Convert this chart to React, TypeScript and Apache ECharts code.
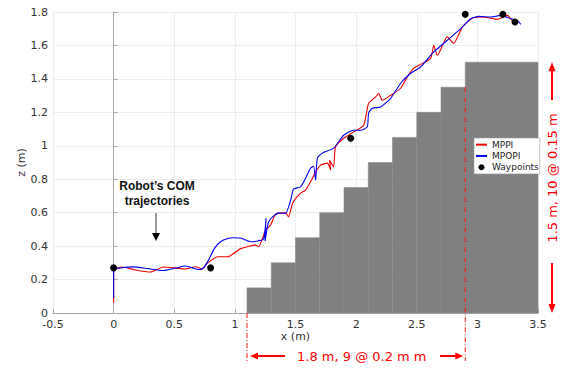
import React, { useEffect, useRef } from 'react';
import * as echarts from 'echarts';

// ---- data (x in m, z in m) ----
const mppi: [number, number][] = [
  [0, 0.06], [0, 0.257], [0.074, 0.275], [0.181, 0.257], [0.304, 0.245], [0.412, 0.275],
  [0.511, 0.269], [0.593, 0.263], [0.676, 0.277], [0.733, 0.263], [0.766, 0.293],
  [0.857, 0.336], [0.94, 0.336], [1.047, 0.385], [1.171, 0.406], [1.196, 0.396],
  [1.229, 0.448], [1.253, 0.496], [1.295, 0.526], [1.336, 0.591], [1.418, 0.599],
  [1.443, 0.575], [1.476, 0.657], [1.542, 0.717], [1.583, 0.735], [1.624, 0.784],
  [1.666, 0.844], [1.707, 0.884], [1.762, 0.896], [1.79, 0.854], [1.781, 0.914],
  [1.814, 0.874], [1.83, 0.993], [1.897, 1.045], [1.979, 1.083], [2.062, 1.123],
  [2.103, 1.254], [2.161, 1.292], [2.186, 1.314], [2.216, 1.272], [2.285, 1.302],
  [2.367, 1.344], [2.422, 1.412], [2.474, 1.464], [2.532, 1.487], [2.615, 1.523],
  [2.64, 1.601], [2.67, 1.541], [2.752, 1.651], [2.804, 1.613], [2.876, 1.71],
  [2.959, 1.764], [3.052, 1.77], [3.165, 1.756], [3.248, 1.78], [3.275, 1.76], [3.302, 1.74],
];

const mpopi: [number, number][] = [
  [0, 0.09], [0, 0.257], [0.057, 0.269], [0.156, 0.276], [0.28, 0.266], [0.403, 0.254],
  [0.511, 0.269], [0.593, 0.281], [0.7, 0.26], [0.741, 0.269], [0.783, 0.317],
  [0.833, 0.388], [0.882, 0.426], [0.94, 0.445], [0.989, 0.45], [1.047, 0.448],
  [1.13, 0.426], [1.196, 0.432], [1.237, 0.442], [1.257, 0.567], [1.249, 0.43],
  [1.278, 0.544], [1.311, 0.575], [1.361, 0.597], [1.418, 0.596], [1.46, 0.675],
  [1.484, 0.741], [1.542, 0.754], [1.583, 0.806], [1.624, 0.866], [1.649, 0.878],
  [1.666, 0.795], [1.68, 0.926], [1.721, 0.956], [1.814, 0.986], [1.897, 1.063],
  [1.979, 1.093], [2.037, 1.093], [2.092, 1.113], [2.103, 1.195], [2.134, 1.225],
  [2.202, 1.232], [2.285, 1.284], [2.367, 1.374], [2.45, 1.434], [2.532, 1.471],
  [2.64, 1.561], [2.752, 1.631], [2.862, 1.701], [2.945, 1.76], [3.013, 1.774],
  [3.11, 1.77], [3.192, 1.78], [3.275, 1.76], [3.33, 1.75], [3.357, 1.726],
];

const waypoints: [number, number][] = [
  [0, 0.27], [0.8, 0.27], [1.955, 1.045], [2.9, 1.786], [3.21, 1.786], [3.31, 1.74],
];

// staircase: step edges along x and step heights
const stairEdges = [1.1, 1.3, 1.5, 1.7, 1.9, 2.1, 2.3, 2.5, 2.7, 2.9, 3.5];
const stairHeights = [0.15, 0.3, 0.45, 0.6, 0.75, 0.9, 1.05, 1.2, 1.35, 1.5];

const legendNames = ['MPPI', 'MPOPI', 'Waypoints'];
const runLabel = '1.8 m, 9 @ 0.2 m m';
const riseLabel = '1.5 m, 10 @ 0.15 m';
const comLabel = 'Robot’s COM\ntrajectories';

const FONT = '"DejaVu Sans", sans-serif';

export default function App() {
  const ref = useRef<HTMLDivElement>(null);

  useEffect(() => {
    document.body.style.margin = '0';
    const chart = echarts.init(ref.current!, null, { renderer: 'svg' });

    const stairData = stairHeights.map((h, i) => [stairEdges[i], stairEdges[i + 1], h]);

    const option: any = {
      animation: false,
      backgroundColor: '#fff',
      grid: { left: 53, right: 28, top: 12, bottom: 56 },
      xAxis: {
        type: 'value',
        min: -0.5,
        max: 3.5,
        interval: 0.5,
        name: 'x (m)',
        nameLocation: 'middle',
        nameGap: 18,
        nameMoveOverlap: false,
        nameTextStyle: { fontFamily: FONT, fontSize: 11, color: '#333' },
        axisLine: { show: true, lineStyle: { color: '#a8a8a8', width: 1 } },
        axisTick: { show: true, inside: true, length: 4, lineStyle: { color: '#a8a8a8' } },
        axisLabel: { fontFamily: FONT, fontSize: 11, color: '#333', margin: 6 },
        splitLine: { show: true, lineStyle: { color: '#ececec', width: 1 } },
      },
      yAxis: {
        type: 'value',
        min: 0,
        max: 1.8,
        interval: 0.2,
        name: 'z (m)',
        nameLocation: 'middle',
        nameGap: 26,
        nameMoveOverlap: false,
        nameTextStyle: { fontFamily: FONT, fontSize: 11, color: '#333' },
        axisLine: { show: true, lineStyle: { color: '#a8a8a8', width: 1 } },
        axisTick: { show: true, inside: true, length: 4, lineStyle: { color: '#a8a8a8' } },
        axisLabel: { fontFamily: FONT, fontSize: 11, color: '#333', margin: 5 },
        splitLine: { show: true, lineStyle: { color: '#ececec', width: 1 } },
      },
      legend: {
        data: [
          { name: legendNames[0], itemStyle: { opacity: 0 } },
          { name: legendNames[1], itemStyle: { opacity: 0 } },
          { name: legendNames[2] },
        ],
        orient: 'vertical',
        left: 474,
        top: 138,
        itemGap: 0,
        itemWidth: 11,
        itemHeight: 6,
        padding: [1, 1, 1, 1],
        backgroundColor: '#fff',
        borderColor: '#9a9a9a',
        borderWidth: 0.6,
        borderRadius: 0,
        textStyle: { fontFamily: FONT, fontSize: 9, color: '#222', lineHeight: 11.3 },
      },
      series: [
        {
          type: 'custom',
          name: 'stairs',
          silent: true,
          z: 1,
          renderItem: (params: any, api: any) => {
            const x0 = api.value(0);
            const x1 = api.value(1);
            const h = api.value(2);
            const p0 = api.coord([x0, h]);
            const p1 = api.coord([x1, 0]);
            return {
              type: 'rect',
              shape: { x: p0[0], y: p0[1], width: p1[0] - p0[0], height: p1[1] - p0[1] },
              style: { fill: '#808080', stroke: '#8c8c8c', lineWidth: 0.6 },
            };
          },
          encode: { x: [0, 1], y: 2 },
          data: stairData,
        },
        {
          type: 'line',
          name: 'MPPI',
          data: mppi,
          symbol: 'none',
          smooth: 0.2,
          z: 3,
          lineStyle: { color: '#f00000', width: 1.1 },
          itemStyle: { color: '#f00000' },
        },
        {
          type: 'line',
          name: 'MPOPI',
          data: mpopi,
          symbol: 'none',
          smooth: 0.2,
          z: 4,
          lineStyle: { color: '#0000f0', width: 1.1 },
          itemStyle: { color: '#0000f0' },
        },
        {
          type: 'scatter',
          name: 'Waypoints',
          data: waypoints,
          symbol: 'circle',
          symbolSize: 7,
          z: 5,
          itemStyle: { color: '#000', opacity: 1 },
        },
      ],
    };

    chart.setOption(option);

    const px = (x: number, z: number) => chart.convertToPixel({ gridIndex: 0 }, [x, z]) as number[];
    const red = '#ff0000';
    const runStart = px(stairEdges[0], 0);
    const runEnd = px(stairEdges[stairEdges.length - 2], stairHeights[stairHeights.length - 2]);
    const riseBottom = px(3.5, 0);
    const riseTop = px(3.5, stairHeights[stairHeights.length - 1]);
    const yRun = 356;
    const xRise = 552;
    const dash = [5, 2, 1, 2];

    const graphic: any[] = [
      // dash-dot verticals
      { type: 'line', z: 100, shape: { x1: runStart[0], y1: runStart[1], x2: runStart[0], y2: 361 }, style: { stroke: red, lineWidth: 0.9, lineDash: dash } },
      { type: 'line', z: 100, shape: { x1: runEnd[0], y1: runEnd[1], x2: runEnd[0], y2: 361 }, style: { stroke: red, lineWidth: 0.9, lineDash: dash } },
      // horizontal arrows
      { type: 'line', z: 100, shape: { x1: 285, y1: yRun, x2: runStart[0] + 8, y2: yRun }, style: { stroke: red, lineWidth: 2 } },
      { type: 'polygon', z: 100, shape: { points: [[runStart[0] + 3, yRun], [runStart[0] + 11, yRun - 3.5], [runStart[0] + 11, yRun + 3.5]] }, style: { fill: red } },
      { type: 'line', z: 100, shape: { x1: 440, y1: yRun, x2: runEnd[0] - 8, y2: yRun }, style: { stroke: red, lineWidth: 2 } },
      { type: 'polygon', z: 100, shape: { points: [[runEnd[0] - 2, yRun], [runEnd[0] - 10, yRun - 3.5], [runEnd[0] - 10, yRun + 3.5]] }, style: { fill: red } },
      { type: 'text', z: 100, x: 297, y: yRun, style: { text: runLabel, fill: red, font: `13px ${FONT}`, align: 'left', verticalAlign: 'middle' } },
      // vertical arrows
      { type: 'line', z: 100, shape: { x1: xRise, y1: 100, x2: xRise, y2: riseTop[1] + 8 }, style: { stroke: red, lineWidth: 2 } },
      { type: 'polygon', z: 100, shape: { points: [[xRise, riseTop[1]], [xRise - 3.5, riseTop[1] + 9], [xRise + 3.5, riseTop[1] + 9]] }, style: { fill: red } },
      { type: 'line', z: 100, shape: { x1: xRise, y1: 263, x2: xRise, y2: riseBottom[1] - 8 }, style: { stroke: red, lineWidth: 2 } },
      { type: 'polygon', z: 100, shape: { points: [[xRise, riseBottom[1]], [xRise - 3.5, riseBottom[1] - 9], [xRise + 3.5, riseBottom[1] - 9]] }, style: { fill: red } },
      { type: 'text', z: 100, x: xRise, y: 178, rotation: Math.PI / 2, style: { text: riseLabel, fill: red, font: `13px ${FONT}`, align: 'center', verticalAlign: 'middle' } },
      // COM annotation
      { type: 'text', z: 100, x: 157, y: 193, style: { text: comLabel, fill: '#111', font: `bold 12px "Liberation Sans", Arial, sans-serif`, align: 'center', verticalAlign: 'middle', lineHeight: 15 } },
      { type: 'line', z: 100, shape: { x1: 156, y1: 213, x2: 156, y2: 234 }, style: { stroke: '#555', lineWidth: 1.2 } },
      { type: 'polygon', z: 100, shape: { points: [[156, 241], [152, 233], [160, 233]] }, style: { fill: '#000' } },
    ];
    chart.setOption({ graphic });

    return () => chart.dispose();
  }, []);

  return <div ref={ref} style={{ width: 566, height: 369 }} />;
}
